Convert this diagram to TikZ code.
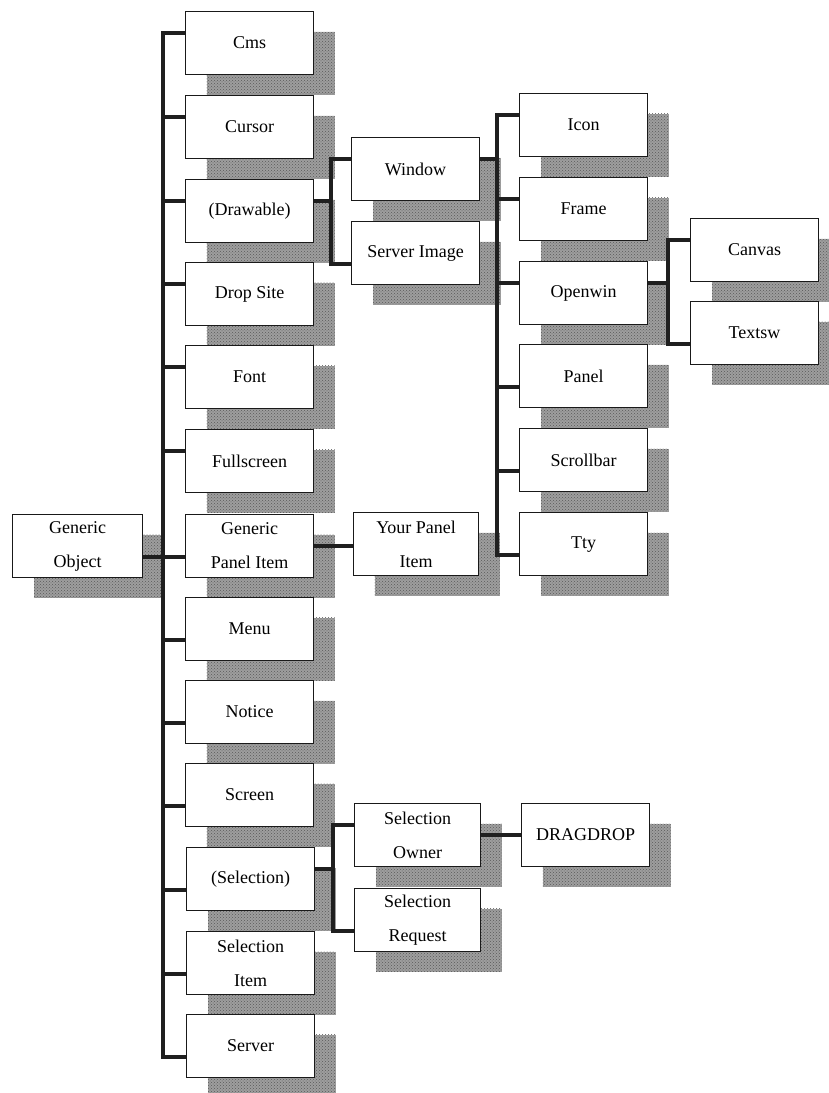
\documentclass[tikz,border=0pt]{standalone}
\usepackage{fontspec}
\setmainfont{Liberation Serif}
\usetikzlibrary{shadows,patterns}
\begin{document}
\begin{tikzpicture}[x=1pt,y=-1pt,
  cls/.style={draw=black!90, line width=1.2pt, fill=white,
    minimum width=128pt, minimum height=63pt, inner sep=0pt,
    anchor=north west, align=center, text=black,
    font=\fontsize{18}{34}\selectfont,
    drop shadow={shadow xshift=21pt, shadow yshift=-20pt, opacity=1, fill=black!38,
      postaction={pattern=crosshatch dots, pattern color=black!65}}},
  link/.style={draw=black!88, line width=4pt}
]
\useasboundingbox (0,0) rectangle (829,1093);

% root class
\node[cls, minimum width=130pt] (go) at (12,514) {Generic\\Object};

% first level
\node[cls] (cms)        at (185,11)   {Cms};
\node[cls] (cursor)     at (185,95)   {Cursor};
\node[cls] (drawable)   at (185,179)  {(Drawable)};
\node[cls] (dropsite)   at (185,262)  {Drop Site};
\node[cls] (font)       at (185,345)  {Font};
\node[cls] (fullscreen) at (185,429)  {Fullscreen};
\node[cls] (gpi)        at (185,514)  {Generic\\Panel Item};
\node[cls] (menu)       at (185,597)  {Menu};
\node[cls] (notice)     at (185,680)  {Notice};
\node[cls] (screen)     at (185,763)  {Screen};
\node[cls] (selection)  at (186,847)  {(Selection)};
\node[cls] (selitem)    at (186,931)  {Selection\\Item};
\node[cls] (server)     at (186,1014) {Server};

% second level
\node[cls] (window)      at (351,137) {Window};
\node[cls] (serverimage) at (351,221) {Server Image};
\node[cls, minimum width=125pt] (ypi) at (353,512) {Your Panel\\Item};
\node[cls, minimum width=126pt] (selowner)   at (354,803) {Selection\\Owner};
\node[cls, minimum width=126pt] (selrequest) at (354,888) {Selection\\Request};

% window subclasses
\node[cls] (icon)      at (519,93)  {Icon};
\node[cls] (frame)     at (519,177) {Frame};
\node[cls] (openwin)   at (519,261) {Openwin};
\node[cls] (panel)     at (519,344) {Panel};
\node[cls] (scrollbar) at (519,428) {Scrollbar};
\node[cls] (tty)       at (519,512) {Tty};
\node[cls] (dragdrop)  at (521,803) {DRAGDROP};

% openwin subclasses
\node[cls] (canvas) at (690,218) {Canvas};
\node[cls] (textsw) at (690,301) {Textsw};

% bus positions
\coordinate (t1) at (163,0);
\coordinate (t2) at (331,0);
\coordinate (t3) at (497,0);
\coordinate (t4) at (668,0);
\coordinate (t5) at (333,0);

% branch points: upper third / lower third of each box
\foreach \n in {cms,cursor,drawable,dropsite,font,fullscreen,window,icon,frame,openwin,canvas,selowner}
  \coordinate (\n-w) at ([yshift=10.5pt]\n.west);
\foreach \n in {gpi,menu,notice,screen,selection,selitem,server,serverimage,panel,scrollbar,tty,textsw,selrequest}
  \coordinate (\n-w) at ([yshift=-10.5pt]\n.west);
\foreach \n in {drawable,window,openwin,selection}
  \coordinate (\n-e) at ([yshift=10.5pt]\n.east);

% main bus
\draw[link] (cms-w) -| (t1 |- server-w) -- (server-w);
\foreach \n in {cursor,drawable,dropsite,font,fullscreen,gpi,menu,notice,screen,selection,selitem}
  \draw[link] (\n-w -| t1) -- (\n-w);
\draw[link] (go.east |- gpi-w) -- (gpi-w -| t1);

% drawable
\draw[link] (drawable-e) -- (drawable-e -| t2);
\draw[link] (window-w) -| (t2 |- serverimage-w) -- (serverimage-w);

% window
\draw[link] (window-e) -- (window-e -| t3);
\draw[link] (icon-w) -| (t3 |- tty-w) -- (tty-w);
\foreach \n in {frame,openwin,panel,scrollbar}
  \draw[link] (\n-w -| t3) -- (\n-w);

% openwin
\draw[link] (openwin-e) -- (openwin-e -| t4);
\draw[link] (canvas-w) -| (t4 |- textsw-w) -- (textsw-w);

% generic panel item
\draw[link] (gpi.east) -- (gpi.east -| ypi.west);

% selection
\draw[link] (selection-e) -- (selection-e -| t5);
\draw[link] (selowner-w) -| (t5 |- selrequest-w) -- (selrequest-w);
\draw[link] (selowner.east) -- (selowner.east -| dragdrop.west);
\end{tikzpicture}
\end{document}
